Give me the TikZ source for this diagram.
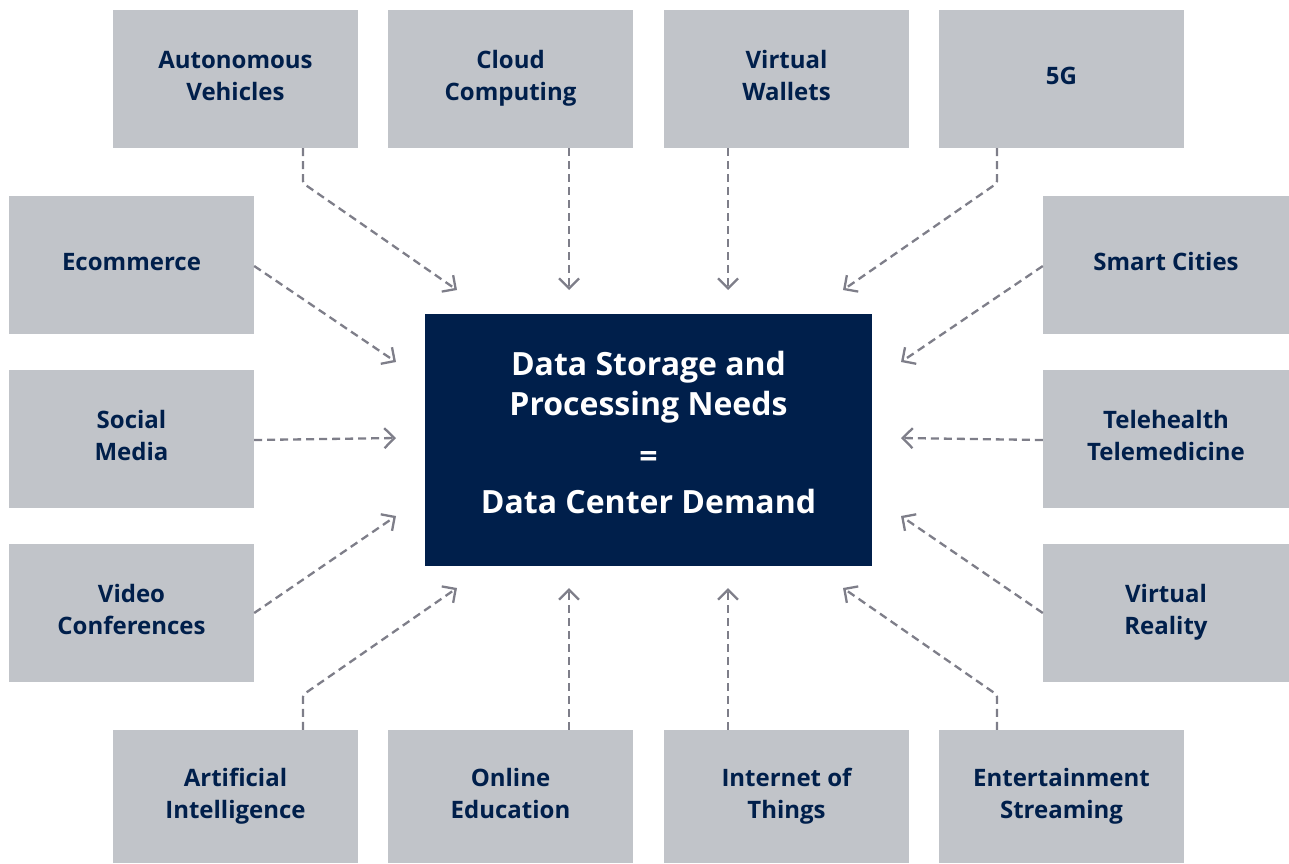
\documentclass[tikz,border=0pt]{standalone}
\usepackage{fontspec}
\setmainfont{Open Sans}
\usetikzlibrary{arrows.meta}

\definecolor{boxgray}{HTML}{C1C4C9}
\definecolor{navy}{HTML}{001F4B}
\definecolor{linkgray}{HTML}{7E7E89}

\tikzset{
  topic/.style={fill=boxgray, text=navy, align=center, inner sep=0,
    minimum width=245, minimum height=138, text depth=6.5,
    font=\bfseries\fontsize{24}{32}\selectfont},
  flow/.style={draw=linkgray, line width=2.3, dash pattern=on 8 off 5,
    rounded corners=2, -{Straight Barb[length=10,width=20,line width=2.3]}}
}

\begin{document}
\begin{tikzpicture}[x=1pt, y=-1pt]
            \useasboundingbox (0,0) rectangle (1289,863);

            % centre
            \node[fill=navy, text=white, align=center, minimum width=447, minimum height=252,
              text depth=15, font=\bfseries\fontsize{32}{40}\selectfont] (demand) at (648.5,440)
              {Data Storage and\\Processing Needs\\[12pt]=\\[6pt]Data Center Demand};

            % top row
            \node[topic] (av) at (235.5,79) {Autonomous\\Vehicles};
            \node[topic] (cc) at (510.5,79) {Cloud\\Computing};
            \node[topic] (vw) at (786.5,79) {Virtual\\Wallets};
            \node[topic] (fiveg) at (1061.5,79) {5G};

            % left column
            \node[topic] (ecom) at (131.5,265) {Ecommerce};
            \node[topic] (social) at (131.5,439) {Social\\Media};
            \node[topic] (video) at (131.5,613) {Video\\Conferences};

            % right column
            \node[topic, minimum width=246] (smart) at (1166,265) {Smart Cities};
            \node[topic, minimum width=246] (tele) at (1166,439) {Telehealth\\Telemedicine};
            \node[topic, minimum width=246] (vr) at (1166,613) {Virtual\\Reality};

            % bottom row
            \node[topic, minimum height=133] (ai) at (235.5,796.5) {Artificial\\Intelligence};
            \node[topic, minimum height=133] (edu) at (510.5,796.5) {Online\\Education};
            \node[topic, minimum height=133] (iot) at (786.5,796.5) {Internet of\\Things};
            \node[topic, minimum height=133] (ent) at (1061.5,796.5) {Entertainment\\Streaming};

            % arrow ends round the centre
            \coordinate (n1) at (457,290);
            \coordinate (n2) at (569,290);
            \coordinate (n3) at (728,290);
            \coordinate (n4) at (843,290);
            \coordinate (w1) at (396,362);
            \coordinate (w2) at (396,438);
            \coordinate (w3) at (396,516);
            \coordinate (e1) at (901,362);
            \coordinate (e2) at (901,438);
            \coordinate (e3) at (901,516);
            \coordinate (s1) at (457,588);
            \coordinate (s2) at (569,588);
            \coordinate (s3) at (728,588);
            \coordinate (s4) at (843,588);

            % links
            \draw[flow] ([xshift=67.5]av.south) -- ++(0,35) -- (n1);
            \draw[flow] ([xshift=58.5]cc.south) -- (n2);
            \draw[flow] ([xshift=-58.5]vw.south) -- (n3);
            \draw[flow] ([xshift=-64.5]fiveg.south) -- ++(0,35) -- (n4);

            \draw[flow] ([yshift=-1]ecom.east) -- (w1);
            \draw[flow] ([yshift=-1]social.east) -- (w2);
            \draw[flow] (video.east) -- (w3);

            \draw[flow] ([yshift=-1]smart.west) -- (e1);
            \draw[flow] ([yshift=-1]tele.west) -- (e2);
            \draw[flow] (vr.west) -- (e3);

            \draw[flow] ([xshift=67.5]ai.north) -- ++(0,-35) -- (s1);
            \draw[flow] ([xshift=58.5]edu.north) -- (s2);
            \draw[flow] ([xshift=-58.5]iot.north) -- (s3);
            \draw[flow] ([xshift=-64.5]ent.north) -- ++(0,-35) -- (s4);
        \end{tikzpicture}
\end{document}
